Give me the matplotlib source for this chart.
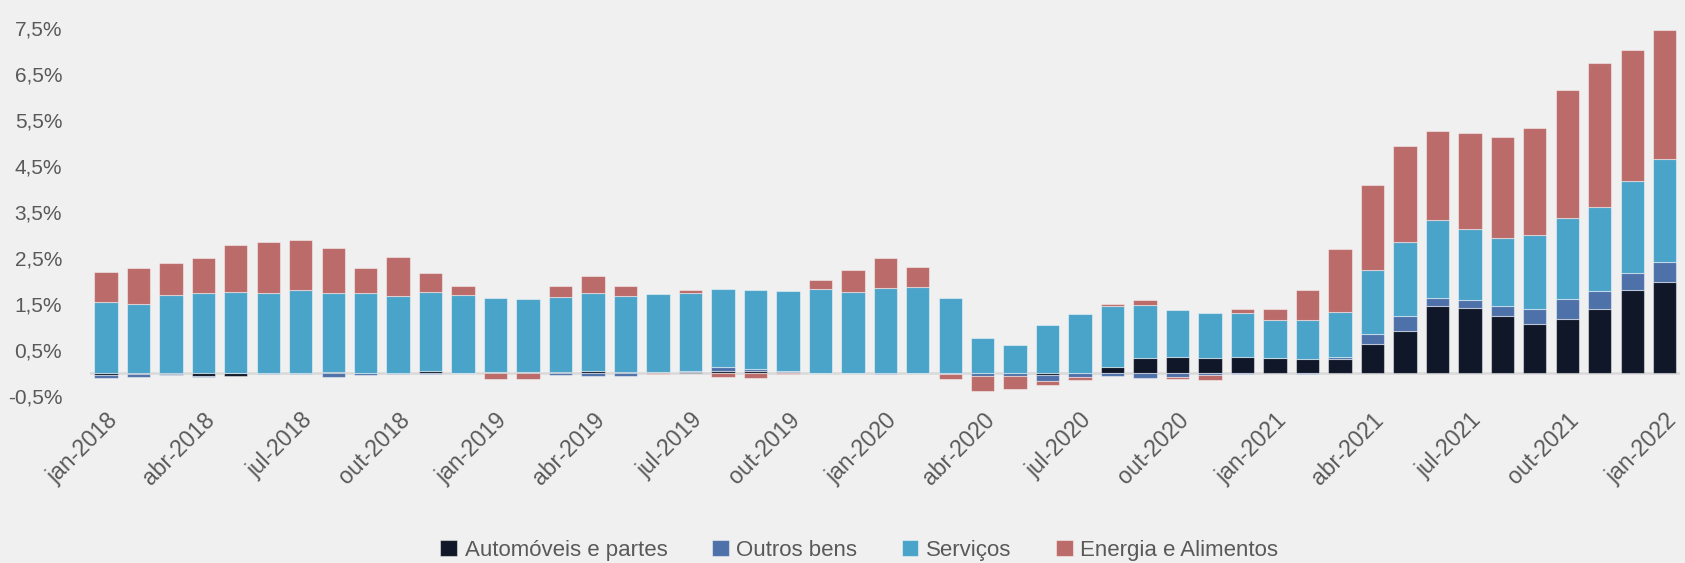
import matplotlib
matplotlib.use('Agg')
import matplotlib.pyplot as plt
import numpy as np

# contribuições mensais, jan-2018 a jan-2022 (p.p.)
meses = ['jan', 'fev', 'mar', 'abr', 'mai', 'jun', 'jul', 'ago', 'set', 'out', 'nov', 'dez']
labels = [m + '-' + str(a) for a in range(2018, 2023) for m in meses][:49]

automoveis = [-0.05, -0.03, -0.02, -0.07, -0.06, 0.00, 0.00, 0.02, 0.00, 0.01, 0.05, 0.01,
              0.03, 0.02, 0.02, 0.04, 0.02, 0.03, 0.02, 0.04, 0.05, 0.02, 0.00, 0.00,
              0.00, 0.00, 0.00, 0.00, 0.00, -0.04, 0.00, 0.13, 0.32, 0.35, 0.32, 0.34,
              0.32, 0.30, 0.30, 0.63, 0.92, 1.45, 1.42, 1.24, 1.06, 1.18, 1.39, 1.80,
              1.99]
outros = [-0.06, -0.05, -0.03, -0.01, 0.00, -0.03, -0.03, -0.08, -0.05, -0.03, -0.02, 0.00,
          0.00, 0.00, -0.04, -0.07, -0.06, 0.00, 0.02, 0.09, 0.04, 0.02, 0.00, 0.00,
          -0.03, 0.00, -0.03, -0.07, -0.07, -0.13, -0.09, -0.06, -0.10, -0.09, -0.04, -0.02,
          0.00, -0.02, 0.05, 0.21, 0.32, 0.18, 0.16, 0.21, 0.33, 0.42, 0.40, 0.37,
          0.42]
servicos = [1.54, 1.50, 1.69, 1.73, 1.77, 1.74, 1.80, 1.71, 1.73, 1.67, 1.71, 1.69,
            1.60, 1.58, 1.63, 1.71, 1.66, 1.68, 1.69, 1.69, 1.72, 1.75, 1.82, 1.76,
            1.84, 1.88, 1.64, 0.77, 0.62, 1.05, 1.29, 1.32, 1.17, 1.01, 0.99, 0.96,
            0.84, 0.86, 0.97, 1.40, 1.61, 1.69, 1.56, 1.48, 1.61, 1.77, 1.82, 2.01,
            2.25]
energia = [0.65, 0.79, 0.71, 0.77, 1.02, 1.11, 1.10, 0.99, 0.56, 0.85, 0.42, 0.19,
           -0.12, -0.12, 0.24, 0.35, 0.21, -0.03, 0.07, -0.09, -0.10, -0.03, 0.20, 0.47,
           0.66, 0.42, -0.09, -0.32, -0.27, -0.08, -0.07, 0.05, 0.10, -0.05, -0.12, 0.09,
           0.23, 0.64, 1.38, 1.85, 2.08, 1.95, 2.07, 2.20, 2.32, 2.79, 3.13, 2.84,
           2.80]

series = [('Automóveis e partes', automoveis, '#0f1729'),
          ('Outros bens', outros, '#4f71a9'),
          ('Serviços', servicos, '#4aa3c8'),
          ('Energia e Alimentos', energia, '#bb6b6a')]

bg = '#f0f0f0'
plt.rcParams['font.family'] = ['Liberation Sans', 'DejaVu Sans']

fig = plt.figure(figsize=(16.85, 5.63), dpi=100, facecolor=bg)
ax = fig.add_axes([0.0534, 0.2966, 0.9436, 0.6534])
ax.set_facecolor(bg)

x = np.arange(len(labels))
pos_base = np.zeros(len(x))
neg_base = np.zeros(len(x))
for name, vals, color in series:
    v = np.array(vals)
    bottom = np.where(v >= 0, pos_base, neg_base)
    ax.bar(x, v, 0.72, bottom=bottom, color=color, label=name,
           edgecolor=(1, 1, 1, 0.45), linewidth=0.8, zorder=2)
    pos_base += np.clip(v, 0, None)
    neg_base += np.clip(v, None, 0)

ax.axhline(0, color='#d9d9d9', linewidth=1.8, zorder=1)

ax.set_xlim(-0.49, 48.47)
ax.set_ylim(-0.5, 7.5)
yt = np.arange(-0.5, 7.6, 1.0)
ax.set_yticks(yt)
ax.set_yticklabels([('%.1f' % t).replace('.', ',') + '%' for t in yt])
ax.set_xticks(x[::3])
ax.set_xticklabels(labels[::3], rotation=45, ha='right', va='top', rotation_mode='anchor')
ax.tick_params(axis='both', length=0, labelsize=15, colors='#595959')
ax.tick_params(axis='x', labelsize=16.5, pad=9)
ax.tick_params(axis='y', pad=20)
for s in ax.spines.values():
    s.set_visible(False)

fig.legend(loc='lower center', bbox_to_anchor=(0.51, -0.032), ncol=4, frameon=False,
           fontsize=16, handlelength=0.75, handleheight=0.75, handletextpad=0.35,
           columnspacing=2.0, labelcolor='#595959')

fig.savefig('out.png', dpi=100, facecolor=bg)
